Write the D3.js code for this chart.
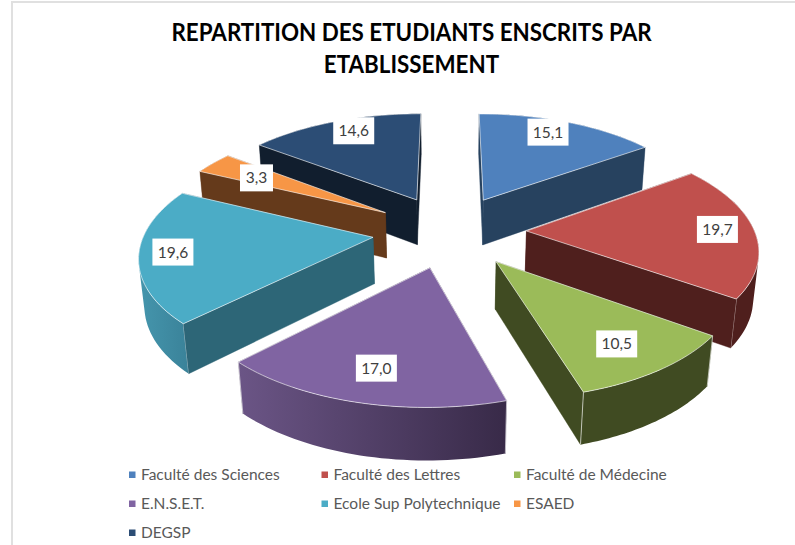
<!DOCTYPE html>
<html><head><meta charset="utf-8">
<script src="https://cdn.jsdelivr.net/npm/d3@7/dist/d3.min.js"></script>
<style>html,body{margin:0;padding:0;background:#fff}svg{display:block}</style>
</head><body><div id="c"></div>
<script>
const categories = ["Faculté des Sciences","Faculté des Lettres","Faculté de Médecine","E.N.S.E.T.","Ecole Sup Polytechnique","ESAED","DEGSP"];
const values = [15.1,19.7,10.5,17.0,19.6,3.3,14.6];
const valueLabels = ["15,1","19,7","10,5","17,0","19,6","3,3","14,6"];
const topColors = ["#4f81bd","#c0504d","#9bbb59","#8064a2","#4bacc6","#f79646","#2c4d75"];
const sideColors = ["#27425f","#4f1f1d","#404b22","#3b2d4b","#2d6677","#653a1b","#111e2e"];
const rimLight = ["#27425f","#4f1f1d","#404b22","#6b5586","#4596ad","#653a1b","#111e2e"];
const rimDark = ["#27425f","#4f1f1d","#404b22","#382a48","#3a8299","#653a1b","#111e2e"];
const paintOrder = [6,0,5,1,4,2,3];
const labelReach = [.84,.84,.775,.774,.857,.72,.85];
const labelTurn = [-3,-1,1,0,1,-1.5,3];
const titleLines = ["REPARTITION DES ETUDIANTS ENSCRITS PAR","ETABLISSEMENT"];

const W=795,H=545;
const cx=449.5,cy=231,R=228,burst=77,tilt=.47,persp=.00064,depth=47,shrink=.0185;

const svg=d3.select("#c").append("svg").attr("width",W).attr("height",H);
svg.append("rect").attr("width",W).attr("height",H).attr("fill","#fff");
svg.append("path").attr("d",`M12,${H}V2H${W}`).attr("fill","none").attr("stroke","#e0e0e0").attr("stroke-width",2);

const t=svg.append("g").attr("font-family","Lato").attr("font-weight",700).attr("font-size",24).attr("fill","#000").attr("text-anchor","middle");
titleLines.forEach((s,i)=>{
  const el=t.append("text").attr("x",411.5).attr("y",41+i*31.5).text(s);
  el.attr("lengthAdjust","spacingAndGlyphs").attr("textLength",el.node().getComputedTextLength()*.932);
});

const color=d3.scaleOrdinal(categories,topColors);
const pie=d3.pie().sort(null).value(d=>d)(values);
const defs=svg.append("defs");

function proj(X,Y,z){
  const w=1-persp*Y+(z?shrink:0);
  return [cx+X/w, cy+(tilt*Y+(z?depth:0))/w];
}
const line=d3.line();
const pieG=svg.append("g");
const strokeCol="rgba(255,255,255,.62)";

function stripPath(a,b){
  // one consistently wound quad per rim step, so the fold at the silhouette stays filled
  return d3.range(a.length-1).map(k=>{
    const q=[a[k],a[k+1],b[k+1],b[k]];
    return line(d3.polygonArea(q)<0?q.slice().reverse():q)+"Z";
  }).join("");
}

paintOrder.forEach(i=>{
  const p=pie[i],mid=(p.startAngle+p.endAngle)/2;
  const ax=burst*Math.sin(mid),ay=-burst*Math.cos(mid);
  const pt=(a,r)=>[ax+r*Math.sin(a),ay-r*Math.cos(a)];
  const angs=d3.range(0,41).map(k=>p.startAngle+(p.endAngle-p.startAngle)*k/40);
  const rimW=angs.map(a=>pt(a,R));
  const topRim=rimW.map(q=>proj(q[0],q[1],false));
  const botRim=rimW.map(q=>proj(q[0],q[1],true));
  const aT=proj(ax,ay,false),aB=proj(ax,ay,true);
  const gid="rim"+i;
  const g=defs.append("linearGradient").attr("id",gid);
  g.append("stop").attr("offset",0).attr("stop-color",rimLight[i]);
  g.append("stop").attr("offset",1).attr("stop-color",rimDark[i]);

  const walls=[
   {y:rimW[0][1]/2+ay/2,d:line([aT,topRim[0],botRim[0],aB])+"Z",f:sideColors[i]},
   {y:rimW[40][1]/2+ay/2,d:line([aT,topRim[40],botRim[40],aB])+"Z",f:sideColors[i]},
   {y:rimW[20][1],d:stripPath(topRim,botRim),f:`url(#${gid})`,outer:true}
  ].sort((a,b)=>a.y-b.y);
  const sg=pieG.append("g").attr("class","slice");
  walls.forEach(w=>{
    sg.append("path").attr("d",w.d).attr("fill",w.f).attr("stroke",w.outer?"none":w.f).attr("stroke-width",.4);
    if(w.outer){
      [0,40].forEach(k=>sg.append("path").attr("d",line([topRim[k],botRim[k]])).attr("stroke",strokeCol).attr("fill","none"));
    }
  });
  sg.append("path").attr("d",line([aT].concat(topRim))+"Z").attr("fill",color(categories[i])).attr("stroke",strokeCol).attr("stroke-width",1).attr("stroke-linejoin","round");
});

const lab=svg.append("g").attr("font-family","Lato").attr("font-size",15.5).attr("fill","#404040").attr("text-anchor","middle");
pie.forEach((p,i)=>{
  const mid=(p.startAngle+p.endAngle)/2,a=mid+labelTurn[i]*Math.PI/180,r=R*labelReach[i];
  const q=proj(burst*Math.sin(mid)+r*Math.sin(a),-burst*Math.cos(mid)-r*Math.cos(a),false);
  const bw=valueLabels[i].length==3?33:41;
  lab.append("rect").attr("x",q[0]-bw/2).attr("y",q[1]-13.5).attr("width",bw).attr("height",27).attr("fill","#fff");
  lab.append("text").attr("x",q[0]).attr("y",q[1]+5.5).text(valueLabels[i]);
});

const legendX=d3.scalePoint().domain([0,1,2]).range([129,514]);
const legendY=d3.scalePoint().domain([0,1,2]).range([475,533]);
const leg=svg.append("g").attr("font-family","Lato").attr("font-size",15.5).attr("fill","#595959");
categories.forEach((c,i)=>{
  const x=legendX(i%3),y=legendY(Math.floor(i/3));
  leg.append("rect").attr("x",x).attr("y",y-3.5).attr("width",6.5).attr("height",6.5).attr("fill",color(c));
  leg.append("text").attr("x",x+12).attr("y",y+5).text(c);
});
</script></body></html>
